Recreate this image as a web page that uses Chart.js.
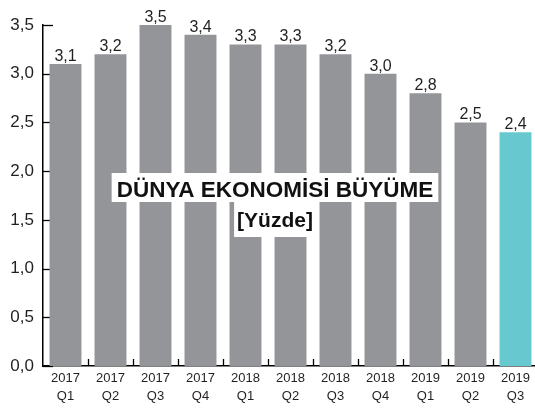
<!DOCTYPE html>
<html>
<head>
<meta charset="utf-8">
<script src="https://cdn.jsdelivr.net/npm/chart.js@4.4.1/dist/chart.umd.min.js"></script>
<style>
html,body{margin:0;padding:0;background:#fff;overflow:hidden;}
#wrap{position:relative;width:538px;height:409px;}
</style>
</head>
<body>
<div id="wrap"><canvas id="c" width="538" height="409"></canvas></div>
<script>
const years = ['2017','2017','2017','2017','2018','2018','2018','2018','2019','2019','2019'];
const quarters = ['Q1','Q2','Q3','Q4','Q1','Q2','Q3','Q4','Q1','Q2','Q3'];
const growth = [3.1, 3.2, 3.5, 3.4, 3.3, 3.3, 3.2, 3.0, 2.8, 2.5, 2.4];
const yTicks = [0, 0.5, 1.0, 1.5, 2.0, 2.5, 3.0, 3.5];
const titleLines = ['DÜNYA EKONOMİSİ BÜYÜME', '[Yüzde]'];

const labels = years.map((y, i) => [y, quarters[i]]);
const colors = growth.map((v, i) => i === growth.length - 1 ? '#67c8cf' : '#939598');
const fmt = v => v.toFixed(1).replace('.', ',');

const decor = {
  id: 'decor',
  beforeDatasetsDraw(chart) {
    const ctx = chart.ctx, x = chart.scales.x, y = chart.scales.y;
    ctx.save();
    ctx.strokeStyle = '#000';
    ctx.lineWidth = 1.3;
    yTicks.forEach(t => {
      const py = Math.round(y.getPixelForValue(t)) + 0.5;
      ctx.beginPath();
      ctx.moveTo(x.left, py);
      ctx.lineTo(x.left + 10, py);
      ctx.stroke();
    });
    for (let i = 1; i < growth.length; i++) {
      const px = Math.round((x.getPixelForValue(i - 1) + x.getPixelForValue(i)) / 2) + 0.5;
      ctx.beginPath();
      ctx.moveTo(px, y.bottom);
      ctx.lineTo(px, y.bottom - 7);
      ctx.stroke();
    }
    ctx.restore();
  },
  afterDatasetsDraw(chart) {
    const ctx = chart.ctx, x = chart.scales.x, y = chart.scales.y;
    ctx.save();
    ctx.fillStyle = '#231f20';
    ctx.font = '16px "Liberation Sans", Arial, sans-serif';
    ctx.textAlign = 'center';
    ctx.textBaseline = 'alphabetic';
    growth.forEach((v, i) => {
      ctx.fillText(fmt(v), x.getPixelForValue(i), y.getPixelForValue(v) - 3);
    });
    const cx = 275;
    const rows = [
      {t: titleLines[0], font: 'bold 22.5px "Liberation Sans", Arial, sans-serif', top: 173, h: 29, cy: 191, pad: 5},
      {t: titleLines[1], font: 'bold 21px "Liberation Sans", Arial, sans-serif', top: 202, h: 35, cy: 221, pad: 3}
    ];
    rows.forEach(r => {
      ctx.font = r.font;
      const w = ctx.measureText(r.t).width;
      ctx.fillStyle = '#fff';
      ctx.fillRect(cx - w / 2 - r.pad, r.top, w + 2 * r.pad, r.h);
    });
    ctx.fillStyle = '#111';
    ctx.textBaseline = 'middle';
    rows.forEach(r => {
      ctx.font = r.font;
      ctx.fillText(r.t, cx, r.cy);
    });
    ctx.restore();
  }
};

new Chart(document.getElementById('c'), {
  type: 'bar',
  data: {
    labels: labels,
    datasets: [{
      data: growth,
      backgroundColor: colors,
      borderWidth: 0,
      barPercentage: 0.71,
      categoryPercentage: 1.0
    }]
  },
  options: {
    responsive: false,
    animation: false,
    devicePixelRatio: 1,
    layout: {padding: {top: 25, right: 0, left: 0, bottom: 0}},
    plugins: {legend: {display: false}, tooltip: {enabled: false}, title: {display: false}},
    scales: {
      x: {
        grid: {display: false, drawTicks: false},
        border: {display: true, color: '#000', width: 1.5},
        ticks: {
          color: '#231f20',
          font: {family: '"Liberation Sans", Arial, sans-serif', size: 13, lineHeight: 1.4},
          padding: 3,
          maxRotation: 0,
          autoSkip: false
        },
        afterFit(s) { s.height = 43; }
      },
      y: {
        min: 0, max: 3.5,
        grid: {display: false, drawTicks: false},
        border: {display: true, color: '#000', width: 1.5},
        afterBuildTicks(s) { s.ticks = yTicks.map(v => ({value: v})); },
        ticks: {
          color: '#231f20',
          font: {family: '"Liberation Sans", Arial, sans-serif', size: 17},
          padding: 9,
          callback: v => fmt(v)
        },
        afterFit(s) { s.width = 43; }
      }
    }
  },
  plugins: [decor]
});
</script>
</body>
</html>
